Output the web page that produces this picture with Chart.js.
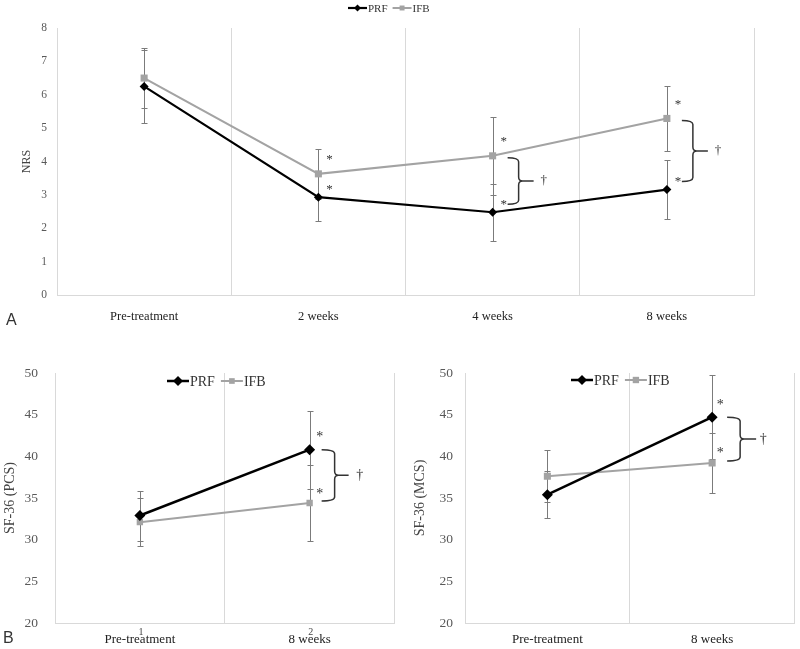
<!DOCTYPE html>
<html><head><meta charset="utf-8">
<script src="https://cdn.jsdelivr.net/npm/chart.js@4.4.1/dist/chart.umd.min.js"></script>
<style>
html,body{margin:0;padding:0;background:#fff}
body{width:800px;height:649px;overflow:hidden;position:relative}
canvas{position:absolute}
.lab{position:absolute;font-family:"Liberation Sans",Arial,sans-serif;font-size:16px;color:#333;line-height:16px}
</style></head><body>
<canvas id="cA" width="800" height="335" style="left:0;top:0;width:800px;height:335px"></canvas>
<canvas id="cB1" width="400" height="309" style="left:0;top:340px;width:400px;height:309px"></canvas>
<canvas id="cB2" width="400" height="309" style="left:400px;top:340px;width:400px;height:309px"></canvas>
<div class="lab" style="left:6px;top:312px">A</div>
<div class="lab" style="left:3px;top:630px">B</div>
<script>
// ---------- data ----------
const categoriesA = ['Pre-treatment', '2 weeks', '4 weeks', '8 weeks'];
const nrsPRF = [6.25, 2.93, 2.48, 3.16];
const nrsPRFErr = [1.1, 0.71, 0.85, 0.87];
const nrsIFB = [6.5, 3.63, 4.17, 5.29];
const nrsIFBErr = [0.9, 0.74, 1.17, 0.98];
const nrsStar = [false, true, true, true];
const nrsDagger = [false, false, true, true];
const nrsTicks = [0, 1, 2, 3, 4, 5, 6, 7, 8];

const categoriesB = ['Pre-treatment', '8 weeks'];
const pcsPRF = [32.9, 40.8];
const pcsPRFErr = [3.0, 4.7];
const pcsIFB = [32.1, 34.4];
const pcsIFBErr = [2.9, 4.6];
const mcsPRF = [35.4, 44.7];
const mcsPRFErr = [2.8, 5.0];
const mcsIFB = [37.6, 39.2];
const mcsIFBErr = [3.1, 3.55];
const sfStar = [false, true];
const sfDagger = [false, true];
const sfTicks = [20, 25, 30, 35, 40, 45, 50];
const seriesNames = ['PRF', 'IFB'];

// ---------- style ----------
const PRF_COLOR = '#000000', IFB_COLOR = '#a3a3a3', ERR_COLOR = '#7b7b7b', GRID = '#d9d9d9';
const SERIF = '"Liberation Serif","Times New Roman",serif';

function drawMarker(ctx, style, x, y, r, color) {
  ctx.save(); ctx.fillStyle = color; ctx.beginPath();
  if (style === 'rectRot') {
    ctx.moveTo(x, y - r); ctx.lineTo(x + r, y); ctx.lineTo(x, y + r); ctx.lineTo(x - r, y); ctx.closePath();
  } else {
    const s = Math.SQRT1_2 * r; ctx.rect(x - s, y - s, 2 * s, 2 * s);
  }
  ctx.fill(); ctx.restore();
}

const errorBars = {
  id: 'errorBars',
  beforeDatasetsDraw(chart, args, o) {
    const ctx = chart.ctx, ys = chart.scales.y;
    ctx.save(); ctx.strokeStyle = ERR_COLOR; ctx.lineWidth = 1;
    chart.data.datasets.forEach((ds, i) => {
      chart.getDatasetMeta(i).data.forEach((pt, j) => {
        const v = ds.data[j], e = ds.errors[j];
        const yt = Math.round(ys.getPixelForValue(v + e)) + 0.5, yb = Math.round(ys.getPixelForValue(v - e)) + 0.5;
        const x = Math.round(pt.x) + 0.5;
        ctx.beginPath();
        ctx.moveTo(x, yt); ctx.lineTo(x, yb);
        ctx.moveTo(x - o.cap, yt); ctx.lineTo(x + o.cap, yt);
        ctx.moveTo(x - o.cap, yb); ctx.lineTo(x + o.cap, yb);
        ctx.stroke();
      });
    });
    ctx.restore();
  }
};

const signif = {
  id: 'signif',
  afterDatasetsDraw(chart, args, o) {
    const ctx = chart.ctx;
    const m0 = chart.getDatasetMeta(0), m1 = chart.getDatasetMeta(1);
    ctx.save();
    ctx.fillStyle = '#333'; ctx.strokeStyle = '#333';
    o.star.forEach((s, j) => {
      if (!s) return;
      const p0 = m0.data[j], p1 = m1.data[j];
      ctx.font = o.starFont; ctx.textAlign = 'center'; ctx.textBaseline = 'middle';
      ctx.fillText('*', p0.x + o.starDx, p0.y + o.starDy[0]);
      ctx.fillText('*', p1.x + o.starDx, p1.y + o.starDy[1]);
      if (o.dagger[j]) {
        const px = p0.x;
        const top = Math.min(p0.y, p1.y) + o.brTop, bot = Math.max(p0.y, p1.y) + o.brBot;
        const mid = (top + bot) / 2, r = 4;
        const x0 = px + o.br[0], x1 = px + o.br[1], xt = px + o.br[2];
        ctx.lineWidth = 1.5;
        ctx.beginPath();
        ctx.moveTo(x0, top);
        ctx.quadraticCurveTo(x1, top, x1, top + r);
        ctx.lineTo(x1, mid - r);
        ctx.quadraticCurveTo(x1, mid, x1 + r, mid);
        ctx.quadraticCurveTo(x1, mid, x1, mid + r);
        ctx.lineTo(x1, bot - r);
        ctx.quadraticCurveTo(x1, bot, x0, bot);
        ctx.moveTo(x1 + r, mid); ctx.lineTo(xt, mid);
        ctx.stroke();
        ctx.font = o.dagFont; ctx.textAlign = 'center'; ctx.textBaseline = 'middle';
        ctx.fillText('\u2020', px + o.br[3], mid);
      }
    });
    ctx.restore();
  }
};

const lineLegend = {
  id: 'lineLegend',
  afterDraw(chart, args, o) {
    const ctx = chart.ctx; let x = o.x; const y = o.y;
    ctx.save(); ctx.font = o.font; ctx.textBaseline = 'middle'; ctx.textAlign = 'left'; ctx.fillStyle = '#333';
    chart.data.datasets.forEach((ds, i) => {
      ctx.strokeStyle = ds.borderColor; ctx.lineWidth = ds.borderWidth;
      ctx.beginPath(); ctx.moveTo(x, y); ctx.lineTo(x + o.lineLen, y); ctx.stroke();
      drawMarker(ctx, ds.pointStyle, x + o.lineLen / 2, y, o.mr[i], ds.pointBackgroundColor);
      x += o.lineLen + 1;
      ctx.fillStyle = '#333';
      ctx.fillText(ds.label, x, y + 1);
      x += ctx.measureText(ds.label).width + o.gap;
    });
    ctx.restore();
  }
};

const smallIdx = {
  id: 'smallIdx',
  afterDraw(chart, args, o) {
    if (!o.show) return;
    const ctx = chart.ctx, xs = chart.scales.x;
    ctx.save(); ctx.font = '10px ' + SERIF; ctx.fillStyle = '#444'; ctx.textAlign = 'center'; ctx.textBaseline = 'middle';
    chart.data.labels.forEach((l, i) => ctx.fillText(String(i + 1), xs.getPixelForValue(i) + 1, o.y));
    ctx.restore();
  }
};

function makeChart(id, cfg) {
  const ds = [
    { label: seriesNames[0], data: cfg.prf, errors: cfg.prfErr, borderColor: PRF_COLOR, backgroundColor: PRF_COLOR,
      pointBackgroundColor: PRF_COLOR, pointBorderColor: PRF_COLOR, borderWidth: cfg.lw[0], pointStyle: 'rectRot',
      pointRadius: cfg.pr[0], pointBorderWidth: 0, tension: 0 },
    { label: seriesNames[1], data: cfg.ifb, errors: cfg.ifbErr, borderColor: IFB_COLOR, backgroundColor: IFB_COLOR,
      pointBackgroundColor: IFB_COLOR, pointBorderColor: IFB_COLOR, borderWidth: cfg.lw[1], pointStyle: 'rect',
      pointRadius: cfg.pr[1], pointBorderWidth: 0, tension: 0 }
  ];
  return new Chart(document.getElementById(id), {
    type: 'line',
    data: { labels: cfg.labels, datasets: ds },
    options: {
      responsive: false, animation: false, events: [],
      layout: { padding: cfg.pad },
      plugins: {
        legend: { display: false }, tooltip: { enabled: false },
        errorBars: { cap: 3 },
        signif: cfg.signif,
        lineLegend: cfg.legend,
        smallIdx: cfg.smallIdx || { show: false }
      },
      scales: {
        x: {
          offset: true,
          grid: { display: true, offset: true, color: GRID, drawTicks: false, lineWidth: 1 },
          border: { display: true, color: GRID },
          ticks: { color: '#222', font: { family: SERIF, size: cfg.xFont }, padding: cfg.xPad, maxRotation: 0, autoSkip: false },
          afterFit(s) { s.height = cfg.xH; }
        },
        y: {
          min: cfg.ticks[0], max: cfg.ticks[cfg.ticks.length - 1],
          afterBuildTicks(s) { s.ticks = cfg.ticks.map(v => ({ value: v })); },
          grid: { display: false, drawTicks: false },
          border: { display: false },
          ticks: { color: '#595959', font: { family: SERIF, size: cfg.yFont }, padding: cfg.yPad },
          title: { display: true, text: cfg.title, color: '#444', font: { family: SERIF, size: cfg.tFont }, padding: { top: cfg.tPad, bottom: 0 } },
          afterFit(s) { s.width = cfg.yW; }
        }
      }
    },
    plugins: [errorBars, signif, lineLegend, smallIdx]
  });
}

makeChart('cA', {
  labels: categoriesA, prf: nrsPRF, prfErr: nrsPRFErr, ifb: nrsIFB, ifbErr: nrsIFBErr, ticks: nrsTicks,
  lw: [2.2, 2], pr: [4.5, 5], pad: { left: 0, right: 46, top: 28, bottom: 0 },
  xH: 40, xPad: 14, xFont: 12.5, yW: 57, yPad: 10, yFont: 11.5, title: 'NRS', tFont: 12, tPad: 20,
  signif: { star: nrsStar, dagger: nrsDagger, starDx: 11, starDy: [-8, -14], starFont: '13px ' + SERIF, dagFont: '13px ' + SERIF,
            brTop: 2, brBot: -8, br: [15, 26, 41, 51] },
  legend: { x: 348, y: 8, font: '11px ' + SERIF, lineLen: 19, gap: 5, mr: [3.5, 3.5] }
});

makeChart('cB1', {
  labels: categoriesB, prf: pcsPRF, prfErr: pcsPRFErr, ifb: pcsIFB, ifbErr: pcsIFBErr, ticks: sfTicks,
  lw: [2.5, 2], pr: [5.5, 4.5], pad: { left: 0, right: 1, top: 33, bottom: 0 },
  xH: 26, xPad: 9, xFont: 13, yW: 55, yPad: 17, yFont: 13.5, title: 'SF-36 (PCS)', tFont: 14, tPad: 2,
  signif: { star: sfStar, dagger: sfDagger, starDx: 10, starDy: [-12, -9], starFont: '14px ' + SERIF, dagFont: '14px ' + SERIF,
            brTop: 0, brBot: -2, br: [12, 25, 39, 50] },
  legend: { x: 167, y: 41, font: '14px ' + SERIF, lineLen: 22, gap: 6, mr: [5, 4] },
  smallIdx: { show: true, y: 292 }
});

makeChart('cB2', {
  labels: categoriesB, prf: mcsPRF, prfErr: mcsPRFErr, ifb: mcsIFB, ifbErr: mcsIFBErr, ticks: sfTicks,
  lw: [2.5, 2], pr: [5.5, 5], pad: { left: 0, right: 3, top: 33, bottom: 0 },
  xH: 26, xPad: 9, xFont: 13, yW: 65, yPad: 12, yFont: 13.5, title: 'SF-36 (MCS)', tFont: 14, tPad: 12,
  signif: { star: sfStar, dagger: sfDagger, starDx: 8, starDy: [-12, -10], starFont: '14px ' + SERIF, dagFont: '14px ' + SERIF,
            brTop: 0, brBot: -2, br: [15, 28, 44, 51] },
  legend: { x: 171, y: 40, font: '14px ' + SERIF, lineLen: 22, gap: 6, mr: [5, 4.5] }
});
</script>
</body></html>
